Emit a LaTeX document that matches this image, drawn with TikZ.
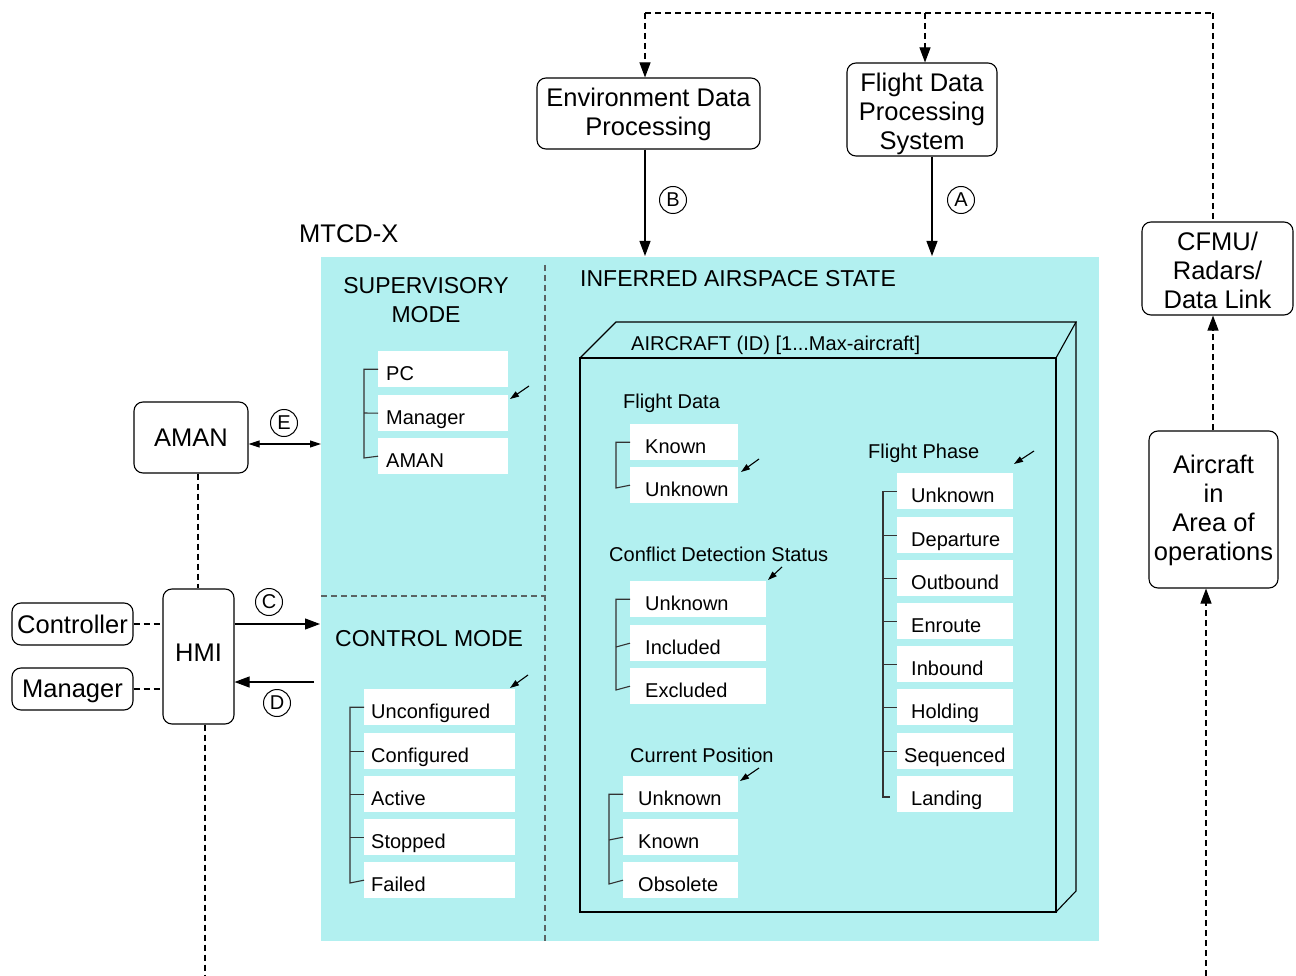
\documentclass[tikz,border=0pt]{standalone}
\usepackage{fontspec}
\setmainfont{Liberation Sans}
\usetikzlibrary{arrows.meta}
\definecolor{cy}{RGB}{178,240,240}
\definecolor{dv}{RGB}{90,100,100}
\tikzset{
  big/.style={font=\fontsize{25.5}{29}\selectfont},
  med/.style={font=\fontsize{23}{29}\selectfont},
  sm/.style={font=\fontsize{20}{24}\selectfont},
  rbox/.style={draw, rounded corners=9, line width=1.1, align=center, inner sep=0, big},
  lbl/.style={inner sep=0, anchor=west},
  itm/.style={fill=white, inner ysep=0, minimum height=36, anchor=north west, align=left, sm, text height=24, text depth=2},
  circ/.style={circle, draw, line width=1, inner sep=0, minimum size=27, sm},
  ln/.style={line width=1.1},
  dsh/.style={line width=1.1, dash pattern=on 6 off 4},
  bigtip/.style={-{Triangle[length=15, width=11]}},
  smtip/.style={-{Triangle[length=9, width=6]}},
  brk/.style={line width=1.1, draw=black!80},
}
\begin{document}
\begin{tikzpicture}[x=1pt,y=-1pt]
\useasboundingbox (0,0) rectangle (1296,976);
% cyan area
\node[fill=cy, minimum width=778, minimum height=684, inner sep=0, anchor=north west] (mtcd) at (321,257) {};
\node[big, lbl] (mtcdlbl) at (299,234) {MTCD-X};
\draw[dsh, draw=dv] (545,265) -- (545,941);
\draw[dsh, draw=dv] (321,596) -- (545,596);

% top boxes
\node[rbox, minimum width=223, minimum height=71] (edp) at (648.5,113.5) {\rule{0pt}{21pt}Environment Data\\Processing};
\node[rbox, minimum width=150, minimum height=93] (fdps) at (922,109.5) {\rule{0pt}{27pt}Flight Data\\Processing\\System};
\node[rbox, minimum width=151, minimum height=93] (cfmu) at (1217.5,268.5) {\rule{0pt}{23pt}CFMU/\\Radars/\\Data Link};
\node[rbox, minimum width=129, minimum height=157] (acft) at (1213.5,509.5) {\rule{0pt}{21pt}Aircraft\\in\\Area of\\operations};

% left boxes
\node[rbox, minimum width=114, minimum height=71] (aman) at (191,437.5) {AMAN};
\node[rbox, minimum width=71, minimum height=135, text depth=8] (hmi) at (198.5,656.5) {HMI};
\node[rbox, minimum width=121, minimum height=42] (ctrl) at (72.5,624) {Controller};
\node[rbox, minimum width=121, minimum height=42] (mgr) at (72.5,689) {\rule{0pt}{23pt}Manager};

% top dashed network
\coordinate (tl) at (645,13);
\coordinate (tm) at (925,13);
\coordinate (tr) at (1213,13);
\draw[dsh] (tl) -- (tr);
\draw[dsh, bigtip] (tl) -- (tl |- edp.north);
\draw[dsh, bigtip] (tm) -- (tm |- fdps.north);
\draw[dsh] (tr) -- (tr |- cfmu.north);

% A and B
\coordinate (bend) at (645,256);
\coordinate (aend) at (932,256);
\draw[ln, bigtip] (edp.south -| bend) -- (bend);
\draw[ln, bigtip] (fdps.south -| aend) -- (aend);
\node[circ] (lB) at (673,200) {B};
\node[circ] (lA) at (961,200) {A};

% right side dashed
\coordinate (ra) at (1213,431);
\draw[dsh, bigtip] (acft.north -| ra) -- (cfmu.south -| ra);
\coordinate (rb) at (1206,976);
\draw[dsh, bigtip] (rb) -- (rb |- acft.south);

% left connectors
\coordinate (eend) at (321,444);
\draw[line width=1.1, {Triangle[length=11, width=7]}-{Triangle[length=11, width=7]}] (aman.east |- eend) -- (eend);
\node[circ] (lE) at (284,423) {E};
\coordinate (amx) at (198,0);
\draw[dsh] (aman.south -| amx) -- (hmi.north -| amx);
\draw[dsh] (ctrl.east) -- (hmi.west |- ctrl.east);
\draw[dsh] (mgr.east) -- (hmi.west |- mgr.east);
\coordinate (hb) at (205,976);
\draw[dsh] (hmi.south -| hb) -- (hb);
\coordinate (cend) at (320,624);
\draw[ln, bigtip] (hmi.east |- cend) -- (cend);
\node[circ] (lC) at (269,602) {C};
\coordinate (dstart) at (314,682);
\draw[ln, bigtip] (dstart) -- (hmi.east |- dstart);
\node[circ] (lD) at (277,703) {D};

% supervisory mode
\node[med, align=center] (sup) at (426,300.5) {SUPERVISORY\\MODE};
\node[itm, inner xsep=8, text width=114] (pc) at (378,351) {PC};
\node[itm, inner xsep=8, text width=114] (smgr) at (378,395) {Manager};
\node[itm, inner xsep=8, text width=114] (saman) at (378,438) {AMAN};
\draw[brk] (pc.west) -| (364,458) -- (saman.west);
\draw[brk] (364,413) -- (smgr.west);
\draw[ln, smtip] (529,386) -- (510,399);

% control mode
\node[med, lbl] (ctl) at (335,639) {CONTROL MODE};
\foreach \n/\t/\y in {c1/Unconfigured/689, c2/Configured/733, c3/Active/776, c4/Stopped/819, c5/Failed/862}{
  \node[itm, inner xsep=7, text width=137] (\n) at (364,\y) {\t};
}
\draw[brk] (c1.west) -| (350,883) -- (c5.west);
\foreach \n in {c2,c3,c4}{ \draw[brk] (350,0 |- \n.west) -- (\n.west); }
\draw[ln, smtip] (528,675) -- (510,688);

% inferred airspace state
\node[med, lbl] (ias) at (580,279) {INFERRED AIRSPACE STATE};
\draw[ln] (580,358) rectangle (1056,912);
\draw[ln] (580,358) -- (616,322) -- (1076,322) -- (1056,358);
\draw[ln] (1076,322) -- (1076,891) -- (1056,912);
\node[sm, lbl] (acid) at (631,345) {AIRCRAFT (ID) [1...Max-aircraft]};

% flight data
\node[sm, lbl] (fdl) at (623,403) {Flight Data};
\node[itm, inner xsep=15, text width=78] (fd1) at (630,424) {Known};
\node[itm, inner xsep=15, text width=78] (fd2) at (630,467) {Unknown};
\draw[brk] (fd1.west) -| (616,488) -- (fd2.west);
\draw[ln, smtip] (759,459) -- (741,472);

% conflict detection status
\node[sm, lbl] (cdl) at (609,554) {Conflict Detection Status};
\node[itm, inner xsep=15, text width=106] (cd1) at (630,581) {Unknown};
\node[itm, inner xsep=15, text width=106] (cd2) at (630,625) {Included};
\node[itm, inner xsep=15, text width=106] (cd3) at (630,668) {Excluded};
\draw[brk] (cd1.west) -| (616,690) -- (cd3.west);
\draw[brk] (616,647) -- (cd2.west);
\draw[ln, smtip] (782,567) -- (768,580);

% current position
\node[sm, lbl] (cpl) at (630,755) {Current Position};
\node[itm, inner xsep=15, text width=85] (cp1) at (623,776) {Unknown};
\node[itm, inner xsep=15, text width=85] (cp2) at (623,819) {Known};
\node[itm, inner xsep=15, text width=85] (cp3) at (623,862) {Obsolete};
\draw[brk] (cp1.west) -| (609,884) -- (cp3.west);
\draw[brk] (609,840) -- (cp2.west);
\draw[ln, smtip] (759,768) -- (740,781);

% flight phase
\node[sm, lbl] (fpl) at (868,453) {Flight Phase};
\foreach \n/\t/\y in {f1/Unknown/473, f2/Departure/517, f3/Outbound/560, f4/Enroute/603, f5/Inbound/646, f6/Holding/689, f7/\mbox{\hspace*{-7pt}Sequenced}/733, f8/Landing/776}{
  \node[itm, inner xsep=14, text width=88] (\n) at (897,\y) {\t};
}
\draw[brk] (f1.west) -| (883,797) -- (890,797);
\foreach \n in {f2,f3,f4,f5,f6,f7}{ \draw[brk] (883,0 |- \n.west) -- (\n.west); }
\draw[ln, smtip] (1034,451) -- (1014,464);
\end{tikzpicture}
\end{document}
